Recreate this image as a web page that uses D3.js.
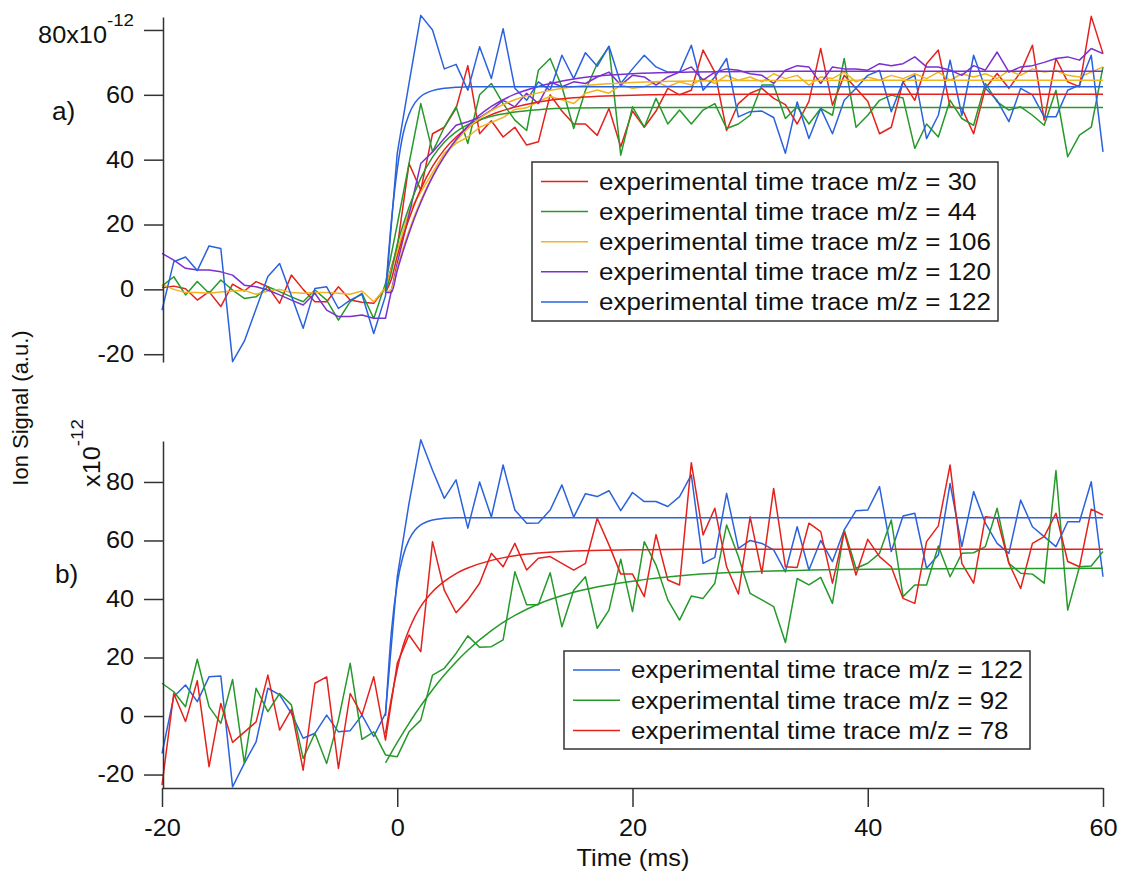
<!DOCTYPE html>
<html>
<head>
<meta charset="utf-8">
<script src="https://cdn.jsdelivr.net/npm/d3@7"></script>
<style>
  body { margin: 0; background: #fff; }
  svg text { font-family: "Liberation Sans", Arial, Helvetica, sans-serif; fill: #111; }
</style>
</head>
<body>
<script>

// time axis (ms), one point per ms
var times = [-20,-19,-18,-17,-16,-15,-14,-13,-12,-11,-10,-9,-8,-7,-6,-5,-4,-3,-2,-1,
  0,1,2,3,4,5,6,7,8,9,10,11,12,13,14,15,16,17,18,19,20,21,22,23,24,25,26,27,28,29,
  30,31,32,33,34,35,36,37,38,39,40,41,42,43,44,45,46,47,48,49,50,51,52,53,54,55,56,57,58,59,60];

// panel a) experimental traces (x10^-12)
var a_mz30 = [0.5,1,0.2,-3.3,-0.7,-5.3,1.6,-0.5,2.4,0.8,-4.3,4.4,0,-3.8,-3.8,0.8,-3.3,-4,-4.3,0.5,
  13,38.8,30.6,48,50,55.8,69,48,52,47, 50,44.5,45.5,60,55,51,51,47.5,55.8,44,
  55,50,55,62,60,61.4,73.8,67,49,57.3, 60.5,62,58.9,57,51,58,74.3,56.8,66,62,
  58,48,50,64,58.3,69.6,73.8,56.3,55.8,48, 62,66.6,62,67,75.3,52.2,71.2,64,62.5,84.2,72.7];
var a_mz44 = [1,3.9,-1.7,2.4,-1.2,2.9,-0.2,-2.8,-2.3,0.8,-0.7,-2.3,-3.8,-0.2,-3.3,-9.5,-3.8,-1.2,-9,1.8,
  20,38.8,57.3,42.4,50,56.3,45,60,63.5,57.3, 52.2,49,67.6,71.2,62.5,49.6,61.4,69.6,74.8,41.4,
  56.3,50,58.9,51,55.3,51,55.3,57.3,49.6,51, 53.7,63,63,52.7,56.3,51,55.8,53.7,71.2,50,
  53.7,58.3,59.9,59,43.5,51,47,58.3,52.7,50.6, 63.5,57.8,55.3,56.3,53.7,50.6,61.4,40.9,47.6,50,68.6];
var a_mz106 = [1.5,0,-1,-1,-1.2,-0.8,-0.5,-0.3,-1.5,-0.5,0,-1,-1.2,-1,-1,-1.2,-1.5,-0.5,-3.8,0.5,
  12,24,30,36,42,45,47,50,51.5,53, 55.5,56,58,59.5,58.5,57.3,60.5,61.5,60.5,63,
  62,62.5,64,62.5,64,63,65,63.5,66,64.5, 65.5,64,66.5,65,66,63,65.5,65,67,64,
  65.5,64.5,66,65,66.5,65,67,64.5,66.5,65.5, 66.5,65,67.5,66,68,67,67.5,66,65.5,67,68.6];
var a_mz120 = [11.1,9,6.5,6,6,5.4,4.4,1.3,0.8,-0.2,-1.7,-3.3,-4.8,-1.2,-6.4,-8.4,-8.4,-7.9,-8.9,-8.9,
  8,23,38.8,42.4,46.5,50.6,51.7,53,55.3,58.3, 56.3,60.5,57.3,64,62.5,64,63.5,65.5,67,63,
  66,65.5,63,65.5,67,68.6,64.5,67,68,67.6, 66.5,66,63.5,67.6,69,68.6,63.5,68.6,68,68,
  67.6,69.6,69,69.6,71.7,68.6,68.6,67.6,66,69, 67.6,73.2,67,68.6,69,70,71.2,71.7,70.7,74.3,72.7];
var a_mz122 = [-6.4,8.5,10,5.8,13.4,12.6,-22.3,-16,-6,4,8,-2,-12,0.3,0.8,-5.9,-3.3,-1.5,-13.6,-2,
  42,63.5,84.5,80,68,69.4,61.4,74.8,65,80.4, 62,58.3,64,61.4,72.2,65,73,68.8,75,63.5,
  68,72.2,68.6,67,67,75.3,61.4,65.5,71.2,53.2, 54.8,55,53,42,57.8,46.5,55.8,48,58.3,62,
  66,67.5,54.8,64,66,46.5,53.7,70.7,53.7,72.2, 62,58.3,51.7,62,60,53.2,53.2,61.4,63,72.2,42.4];

// panel b) experimental traces (x10^-12)
var b_mz122 = [-12.8,6.6,10.6,4.9,13.4,13.7,-24.2,-16.2,-8.8,9.5,7.2,0.9,-7.6,-5.9,0.3,-5.4,-5,0.3,-7,0.9,
  47.6,72.7,94.4,84,74.4,80.7,64.2,80,68,85.8, 70.4,65.9,66,70.4,79,68,76,75,77,70.2,
  76.4,73.3,73.3,71.6,75,82.4,52.2,54.2,76.1,57.3, 60,59,56.8,49.3,64.7,49.9,60,52.8,63.6,70.2,
  70.4,78.4,56.2,68.4,69.3,50.5,55,79.5,57.9,76.7, 65.9,59,55.6,73.8,64.7,61.3,57.9,66.4,66.4,80.1,47.6];
var b_mz92 = [11.2,8.3,3.2,19.4,3.2,-2.5,12.5,-16.2,9.5,1.5,7.7,3.8,-14.5,-5.9,-16.2,-1.4,18,-8,-5.4,-13.3,
  -13.9,-5.4,-1.4,14,16.3,21.4,27.4,23.5,23.7,26, 49.3,38,38,49,30.5,43,47.6,30,36.2,53.6,
  35.7,59.6,51.6,39.7,32.8,41,40.2,45.4,65.3,54.5, 41.9,39.7,37.4,25.1,47,44.8,47.4,38.5,63.6,50.5,
  52.2,55.6,67,40.8,44.8,44.8,58.1,47.6,55.6,55.8, 57.9,71,52.2,48.8,48.5,45.4,83.9,36.2,51,51.3,56.2];
var b_mz78 = [-23.6,7.7,-1.9,12.1,-17.3,4.3,-9,-5.5,-2,14,-4.8,2.3,-18.5,11.2,13.4,-17.9,7.7,0.3,13.4,-8.2,
  18,27.7,22,59.6,43,35.3,39.7,45.4,55.6,51, 59,49.9,53.9,54.5,52.2,49.9,52.2,67.6,58.5,48.5,
  48.5,40.8,62,46.5,44.8,86.6,61.9,71,51,41.7, 68.1,48.8,77.8,51,50.8,65.9,63,45.4,63,48.2,
  60.4,54.5,51,40.2,38.5,59.6,65,85.8,52.2,45.4, 68.1,67.6,52.2,43.6,59,61.3,69.3,52.8,51,70.7,68.7];

// fitted rise curves at these times
var fitTimes = [-1,-0.5,0,0.5,1,1.5,2,3,4,5,6,8,10,12,15,20,25,30,40,50,60];
var fitA_mz30  = [-1,3.1,10.2,16.4,21.7,26.6,30.9,37.9,43.1,47,49.9,53.9,56.2,57.8,59.1,59.9,60.1,60.2,60.2,60.2,60.2];
var fitA_mz44  = [-1,5.4,13.9,19.9,25.3,30,34.3,40.8,45.4,48.6,50.8,53.4,54.7,55.4,55.9,56.1,56.1,56.1,56.1,56.1,56.1];
var fitA_mz106 = [-1,0,6.7,12.7,18.1,23,27.4,34.9,40.9,45.7,49.6,55.1,58.5,60.6,62.5,63.8,64.3,64.4,64.5,64.5,64.5];
var fitA_mz120 = [-1,-1,5.8,11.8,17.3,22.3,26.8,34.7,41,46.2,50.4,56.4,60.2,62.6,64.9,66.5,67,67.2,67.3,67.3,67.3];
var fitA_mz122 = [-1,21,37,48,54,57.5,59.5,61.3,62,62.3,62.5,62.5,62.5,62.5,62.5,62.5,62.5,62.5,62.5,62.5,62.5];
var fitB_mz122 = [0,28.8,45.3,54.8,60.3,63.5,65.3,67,67.6,67.8,67.8,67.8,67.8,67.8,67.8,67.8,67.8,67.8,67.8,67.8,67.8];
var fitB_mz92  = [-16,-12.5,-9,-5.7,-2.5,0.6,3.5,9,14,18.5,22.5,29.2,34.4,38.3,42.3,46.1,48.3,49.3,50.2,50.4,50.5];
var fitB_mz78  = [-6,6,16,24,29.5,34,37.5,42.5,46,48.7,50.6,53.2,54.8,55.7,56.4,56.8,57,57,57,57,57];

// tick labels
var xTicks = [-20, 0, 20, 40, 60];
var yTicks = [-20, 0, 20, 40, 60, 80];

var colors = {red: "#e5211c", green: "#25992a", yellow: "#f1b31e", purple: "#7a2fcf", blue: "#2a62de"};

var seriesA = [
  {label: "experimental time trace m/z = 30",  color: colors.red,    data: a_mz30,  fit: fitA_mz30},
  {label: "experimental time trace m/z = 44",  color: colors.green,  data: a_mz44,  fit: fitA_mz44},
  {label: "experimental time trace m/z = 106", color: colors.yellow, data: a_mz106, fit: fitA_mz106},
  {label: "experimental time trace m/z = 120", color: colors.purple, data: a_mz120, fit: fitA_mz120},
  {label: "experimental time trace m/z = 122", color: colors.blue,   data: a_mz122, fit: fitA_mz122}
];
var seriesB = [
  {label: "experimental time trace m/z = 122", color: colors.blue,  data: b_mz122, fit: fitB_mz122},
  {label: "experimental time trace m/z = 92",  color: colors.green, data: b_mz92,  fit: fitB_mz92},
  {label: "experimental time trace m/z = 78",  color: colors.red,   data: b_mz78,  fit: fitB_mz78}
];

var FONT = '"Liberation Sans", Arial, Helvetica, sans-serif';
var width = 1121, height = 878;

var svg = d3.select("body").append("svg")
    .attr("width", width)
    .attr("height", height);

// scales
var x = d3.scaleLinear().domain([-20, 60]).range([162, 1103]);
var yA = d3.scaleLinear().domain([-22.4, 84]).range([362, 17]);
var yB = d3.scaleLinear().domain([-24.6, 94]).range([788, 441]);

// plain hyphen for negatives, like the original
var fmt = function(d) { return String(d); };

// the original lettering is a bit wider than Liberation Sans
function stretch(sel, k) {
  sel.attr("transform", function() {
    var tx = +this.getAttribute("x") || 0;
    return "translate(" + tx + ",0) scale(" + k + ",1) translate(" + (-tx) + ",0)";
  });
}

function drawPanel(series, y) {
  var g = svg.append("g");
  var dataLine = d3.line()
      .x(function(d, i) { return x(times[i]); })
      .y(function(d) { return y(d); });
  var fitLine = d3.line()
      .x(function(d, i) { return x(fitTimes[i]); })
      .y(function(d) { return y(d); })
      .curve(d3.curveMonotoneX);

  g.selectAll(".trace")
      .data(series)
      .enter().append("path")
      .attr("class", "trace")
      .attr("fill", "none")
      .attr("stroke", function(d) { return d.color; })
      .attr("stroke-width", 1.5)
      .attr("stroke-linejoin", "round")
      .attr("d", function(d) { return dataLine(d.data); });

  g.selectAll(".fit")
      .data(series)
      .enter().append("path")
      .attr("class", "fit")
      .attr("fill", "none")
      .attr("stroke", function(d) { return d.color; })
      .attr("stroke-width", 1.5)
      .attr("d", function(d) { return fitLine(d.fit); });
}

function drawLegend(series, bx, by, bw, bh, firstRow, step) {
  var g = svg.append("g");
  g.append("rect")
      .attr("x", bx).attr("y", by)
      .attr("width", bw).attr("height", bh)
      .attr("fill", "#fff")
      .attr("stroke", "#333")
      .attr("stroke-width", 1.5);
  var row = g.selectAll(".row")
      .data(series)
      .enter().append("g")
      .attr("class", "row");
  row.append("line")
      .attr("x1", bx + 9).attr("x2", bx + 56)
      .attr("y1", function(d, i) { return firstRow + i * step; })
      .attr("y2", function(d, i) { return firstRow + i * step; })
      .attr("stroke", function(d) { return d.color; })
      .attr("stroke-width", 1.5);
  var t = row.append("text")
      .attr("x", bx + 67)
      .attr("y", function(d, i) { return firstRow + i * step; })
      .attr("dy", "0.36em")
      .attr("font-size", 23)
      .text(function(d) { return d.label; });
  stretch(t, 1.13);
}

function styleAxis(ax) {
  ax.attr("font-size", 23).attr("font-family", FONT);
  ax.selectAll("path, line").attr("stroke", "#333").attr("stroke-width", 1.5);
  ax.selectAll("text").attr("fill", "#111");
}

drawPanel(seriesA, yA);
drawPanel(seriesB, yB);

// y axis, panel a
var axA = svg.append("g")
    .attr("transform", "translate(163,0)")
    .call(d3.axisLeft(yA).tickValues(yTicks).tickFormat(fmt).tickSize(19).tickSizeOuter(0).tickPadding(10));
styleAxis(axA);
axA.selectAll(".tick").filter(function(d) { return d === 80; }).select("text")
    .attr("y", 5)
    .text("80x10")
    .append("tspan")
    .attr("dy", -17)
    .attr("font-size", 17)
    .text("-12");
stretch(axA.selectAll("text"), 1.1);

// y axis, panel b
var axB = svg.append("g")
    .attr("transform", "translate(163,0)")
    .call(d3.axisLeft(yB).tickValues(yTicks).tickFormat(fmt).tickSize(19).tickSizeOuter(0).tickPadding(10));
styleAxis(axB);
stretch(axB.selectAll("text"), 1.1);

// x axis
var axX = svg.append("g")
    .attr("transform", "translate(0,788)")
    .call(d3.axisBottom(x).tickValues(xTicks).tickFormat(fmt).tickSize(19).tickSizeOuter(0).tickPadding(13));
styleAxis(axX);
stretch(axX.selectAll("text"), 1.1);

// exponent label of panel b
var expB = svg.append("text")
    .attr("transform", "translate(100,487) rotate(-90) scale(1.1,1)")
    .attr("font-size", 23)
    .text("x10");
expB.append("tspan")
    .attr("dy", -17)
    .attr("font-size", 17)
    .text("-12");

// panel letters
stretch(svg.append("text").attr("x", 52).attr("y", 120).attr("font-size", 25).text("a)"), 1.05);
stretch(svg.append("text").attr("x", 55).attr("y", 583).attr("font-size", 25).text("b)"), 1.05);

// axis titles
svg.append("text")
    .attr("transform", "translate(28,408) rotate(-90)")
    .attr("text-anchor", "middle")
    .attr("font-size", 22)
    .text("Ion Signal (a.u.)");
stretch(svg.append("text")
    .attr("x", 633).attr("y", 866)
    .attr("text-anchor", "middle")
    .attr("font-size", 23)
    .text("Time (ms)"), 1.1);

// legends
drawLegend(seriesA, 532, 162, 466, 159, 181.5, 30.1);
drawLegend(seriesB, 564, 651, 466, 98, 670, 30.3);

</script>
</body>
</html>
